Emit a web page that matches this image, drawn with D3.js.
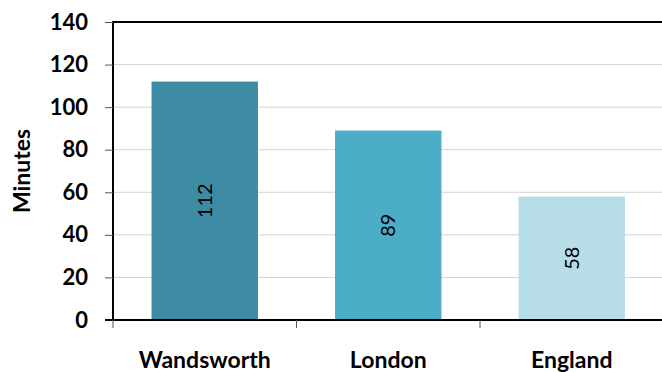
<!DOCTYPE html>
<html>
<head>
<meta charset="utf-8">
<script src="https://cdn.jsdelivr.net/npm/d3@7"></script>
<style>
  body { margin: 0; background: #fff; }
  text { font-family: Lato, "Open Sans", sans-serif; }
</style>
</head>
<body>
<div id="main"></div>
<script>
const categories = ['Wandsworth', 'London', 'England'];
const minutes = [112, 89, 58];
const barColors = ['#3e8ca3', '#4badc6', '#b7dde8'];
const yTicks = [0, 20, 40, 60, 80, 100, 120, 140];

const W = 662, H = 372;
const plotLeft = 113, plotTop = 22, plotBottom = 320, plotRight = 663.5;

const svg = d3.select('#main').append('svg')
    .attr('width', W)
    .attr('height', H);

const yScale = d3.scaleLinear().domain([0, 140]).range([plotBottom, plotTop]);
const xScale = d3.scaleBand()
    .domain(categories)
    .range([plotLeft, plotRight])
    .paddingInner(0.42)
    .paddingOuter(0.21);

// gridlines
svg.append('g')
    .selectAll('line')
    .data(yTicks.filter(t => t > 0 && t < 140))
    .enter()
    .append('line')
    .attr('x1', plotLeft).attr('x2', W)
    .attr('y1', d => yScale(d)).attr('y2', d => yScale(d))
    .attr('stroke', '#d4d4d4')
    .attr('stroke-width', 1);

// top border
svg.append('line')
    .attr('x1', plotLeft).attr('x2', W)
    .attr('y1', yScale(140)).attr('y2', yScale(140))
    .attr('stroke', '#000').attr('stroke-width', 2);

// bars
svg.selectAll('rect.bar')
    .data(categories)
    .enter()
    .append('rect')
    .attr('class', 'bar')
    .attr('x', d => xScale(d))
    .attr('width', xScale.bandwidth())
    .attr('y', (d, i) => yScale(minutes[i]))
    .attr('height', (d, i) => yScale(0) - yScale(minutes[i]))
    .attr('fill', (d, i) => barColors[i]);

// value labels
svg.selectAll('text.val')
    .data(categories)
    .enter()
    .append('text')
    .attr('class', 'val')
    .attr('transform', (d, i) => {
        const cx = xScale(d) + xScale.bandwidth() / 2;
        const cy = (yScale(minutes[i]) + yScale(0)) / 2;
        return 'translate(' + cx + ',' + cy + ') rotate(-90)';
    })
    .attr('text-anchor', 'middle')
    .attr('dy', '0.35em')
    .attr('font-size', 20)
    .attr('fill', '#000')
    .text((d, i) => minutes[i]);

// y axis
const yAxis = d3.axisLeft(yScale).tickValues(yTicks).tickSize(8).tickPadding(17);
const gy = svg.append('g')
    .attr('transform', 'translate(' + plotLeft + ',0)')
    .call(yAxis);
gy.select('.domain').attr('stroke-width', 2).attr('d', 'M0,' + (plotTop - 1) + 'V' + (plotBottom + 1));
gy.selectAll('.tick line').attr('stroke', '#555');
gy.selectAll('.tick text')
    .attr('font-size', 22)
    .attr('font-weight', 'bold')
    .attr('font-family', 'Lato, sans-serif')
    .attr('fill', '#000');

// x axis line with ticks between categories
svg.append('line')
    .attr('x1', plotLeft - 8).attr('x2', W)
    .attr('y1', plotBottom).attr('y2', plotBottom)
    .attr('stroke', '#000').attr('stroke-width', 2);

const step = xScale.step();
const bounds = categories.map(d => xScale(d) - xScale.paddingInner() * step / 2);
svg.append('g')
    .selectAll('line')
    .data(bounds)
    .enter()
    .append('line')
    .attr('x1', d => d).attr('x2', d => d)
    .attr('y1', plotBottom).attr('y2', plotBottom + 8)
    .attr('stroke', '#555').attr('stroke-width', 1);

// category labels
svg.selectAll('text.cat')
    .data(categories)
    .enter()
    .append('text')
    .attr('class', 'cat')
    .attr('x', d => xScale(d) + xScale.bandwidth() / 2)
    .attr('y', 368)
    .attr('text-anchor', 'middle')
    .attr('font-size', 23)
    .attr('font-weight', 'bold')
    .attr('fill', '#000')
    .text(d => d);

// y axis title
svg.append('text')
    .attr('transform', 'translate(30,' + ((plotTop + plotBottom) / 2) + ') rotate(-90)')
    .attr('text-anchor', 'middle')
    .attr('font-size', 23)
    .attr('font-weight', 'bold')
    .attr('fill', '#000')
    .text('Minutes');
</script>
</body>
</html>
